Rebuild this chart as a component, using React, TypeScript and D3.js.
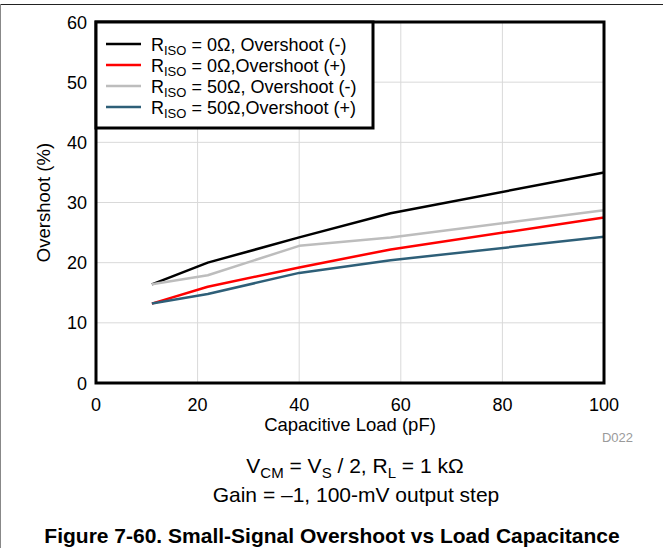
import React from "react";
import * as d3 from "d3";

const capLoad = [11, 22, 40, 58, 100];
const rIso0Neg = [16.4, 20.0, 24.2, 28.2, 35.0];
const rIso0Pos = [13.2, 16.0, 19.2, 22.2, 27.5];
const rIso50Neg = [16.4, 17.9, 22.8, 24.2, 28.7];
const rIso50Pos = [13.2, 14.8, 18.3, 20.4, 24.3];
const xTicks = [0, 20, 40, 60, 80, 100];
const yTicks = [0, 10, 20, 30, 40, 50, 60];

const seriesNames = [
  { r: "0Ω", rest: ", Overshoot (-)" },
  { r: "0Ω", rest: ",Overshoot (+)" },
  { r: "50Ω", rest: ", Overshoot (-)" },
  { r: "50Ω", rest: ",Overshoot (+)" },
];
const seriesValues = [rIso0Neg, rIso0Pos, rIso50Neg, rIso50Pos];
const colors = ["#000000", "#ff0000", "#bdbdbd", "#2e5f78"];

const W = 663;
const H = 548;
const L = 96, R = 604, T = 22, B = 383;
const FONT = "'Liberation Sans', Arial, Helvetica, sans-serif";

export default function App() {
  const x = d3.scaleLinear().domain([0, 100]).range([L, R]);
  const y = d3.scaleLinear().domain([0, 60]).range([B, T]);
  const line = d3
    .line<number>()
    .x((_, i) => x(capLoad[i]))
    .y((d) => y(d));

  const legRows = [44, 65, 86, 107];

  return (
    <svg
      width={W}
      height={H}
      style={{ position: "absolute", left: 0, top: 0, background: "#fff" }}
      fontFamily={FONT}
    >
      <rect x={0} y={0} width={W} height={H} fill="#fff" />
      <line x1={0} x2={W} y1={4.5} y2={4.5} stroke="#222" strokeWidth={1} />
      <line x1={0.5} x2={0.5} y1={4} y2={H} stroke="#888" strokeWidth={1} />

      {xTicks.slice(1, -1).map((t) => (
        <line key={"gx" + t} x1={x(t)} x2={x(t)} y1={T} y2={B} stroke="#d9d9d9" strokeWidth={1} />
      ))}
      {yTicks.slice(1, -1).map((t) => (
        <line key={"gy" + t} x1={L} x2={R} y1={y(t)} y2={y(t)} stroke="#d9d9d9" strokeWidth={1} />
      ))}

      {seriesValues.map((vals, i) => (
        <path key={"s" + i} d={line(vals) || ""} fill="none" stroke={colors[i]} strokeWidth={2.5} strokeLinejoin="round" />
      ))}

      <rect x={L} y={T} width={R - L} height={B - T} fill="none" stroke="#000" strokeWidth={3} />

      <rect x={L} y={T} width={373 - L} height={128 - T} fill="#fff" stroke="#000" strokeWidth={3} />
      {seriesNames.map((s, i) => (
        <g key={"lg" + i}>
          <line x1={106} x2={141} y1={legRows[i]} y2={legRows[i]} stroke={colors[i]} strokeWidth={2.5} />
          <text x={151} y={legRows[i] + 7} fontSize={18} fill="#000">
            R<tspan fontSize={13} dy={4}>ISO</tspan>
            <tspan dy={-4}>{" = " + s.r + s.rest}</tspan>
          </text>
        </g>
      ))}

      {yTicks.map((t) => (
        <text key={"yt" + t} x={87} y={y(t) + 6.5} fontSize={18} textAnchor="end" fill="#000">
          {t}
        </text>
      ))}
      {xTicks.map((t) => (
        <text key={"xt" + t} x={x(t)} y={411} fontSize={18} textAnchor="middle" fill="#000">
          {t}
        </text>
      ))}

      <text x={350} y={431} fontSize={18.5} textAnchor="middle" fill="#000">
        Capacitive Load (pF)
      </text>
      <text transform={`translate(50,${(T + B) / 2}) rotate(-90)`} fontSize={18.5} textAnchor="middle" fill="#000">
        Overshoot (%)
      </text>
      <text x={633} y={442} fontSize={13} textAnchor="end" fill="#9a9a9a">
        D022
      </text>

      <text x={355} y={473} fontSize={21} textAnchor="middle" fill="#000">
        V<tspan fontSize={15} dy={5}>CM</tspan>
        <tspan dy={-5}> = V</tspan>
        <tspan fontSize={15} dy={5}>S</tspan>
        <tspan dy={-5}> / 2, R</tspan>
        <tspan fontSize={15} dy={5}>L</tspan>
        <tspan dy={-5}> = 1 kΩ</tspan>
      </text>
      <text x={356} y={502} fontSize={21} textAnchor="middle" fill="#000">
        Gain = –1, 100-mV output step
      </text>
      <text x={332} y={543} fontSize={21} fontWeight="bold" textAnchor="middle" fill="#000">
        Figure 7-60. Small-Signal Overshoot vs Load Capacitance
      </text>
    </svg>
  );
}
